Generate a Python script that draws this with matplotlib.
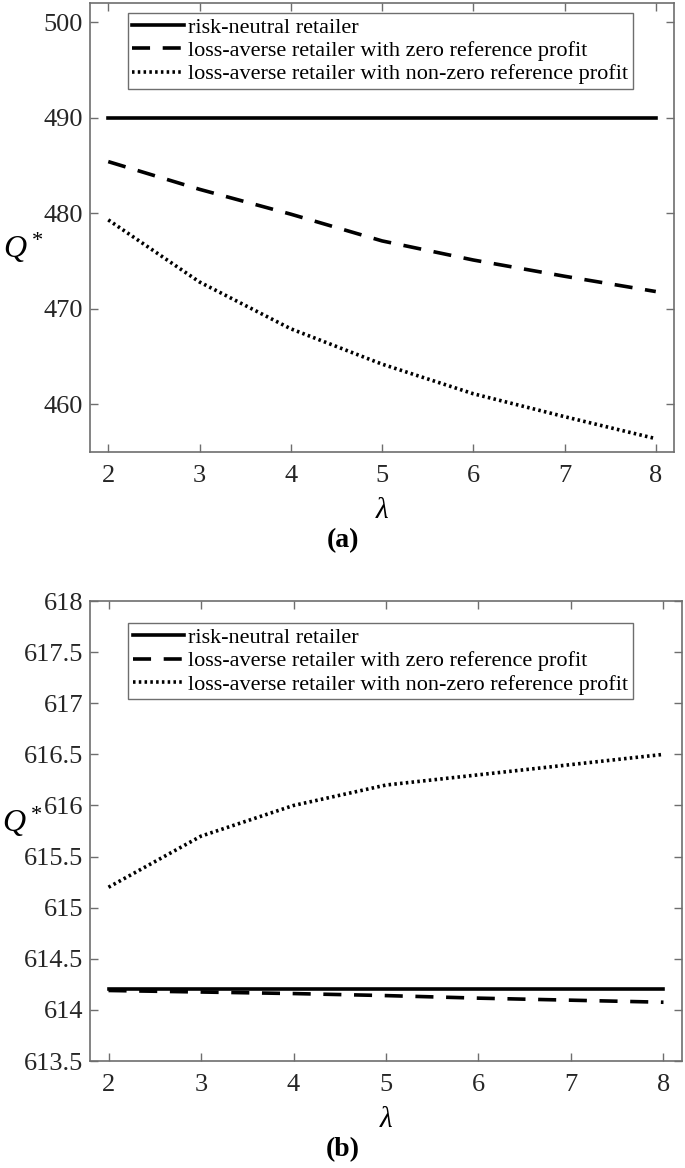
# optimal order quantity Q* vs loss aversion lambda, two cases
import matplotlib.pyplot as plt
import numpy as np

plt.rcParams['font.family'] = ['Liberation Serif', 'DejaVu Serif']
plt.rcParams['mathtext.fontset'] = 'custom'
plt.rcParams['mathtext.rm'] = 'Liberation Serif'
plt.rcParams['mathtext.it'] = 'Liberation Serif:italic'

# data
lam = [2, 3, 4, 5, 6, 7, 8]

# panel (a)
a_neutral = [490, 490, 490, 490, 490, 490, 490]
a_zero = [485.4, 482.5, 479.9, 477.1, 475.1, 473.4, 471.8]
a_nonzero = [479.3, 472.8, 467.9, 464.2, 461.1, 458.7, 456.4]

# panel (b)
b_neutral = [614.2, 614.2, 614.2, 614.2, 614.2, 614.2, 614.2]
b_zero = [614.19, 614.175, 614.16, 614.14, 614.115, 614.095, 614.075]
b_nonzero = [615.2, 615.7, 616.0, 616.2, 616.3, 616.4, 616.5]

a_yticks = [460, 470, 480, 490, 500]
b_yticks = ['613.5', '614', '614.5', '615', '615.5', '616',
            '616.5', '617', '617.5', '618']

labels = ["risk-neutral retailer",
          "loss-averse retailer with zero reference profit",
          "loss-averse retailer with non-zero reference profit"]

axcol = '#6e6e6e'
serif = 'Liberation Serif'

fig = plt.figure(figsize=(6.85, 11.68), dpi=100)
ax1 = fig.add_axes([0.1314, 0.6130, 0.8526, 0.3844])
ax2 = fig.add_axes([0.1314, 0.0916, 0.8642, 0.3938])


def style(ax):
    for s in ax.spines.values():
        s.set_color(axcol)
        s.set_linewidth(1.2)
    ax.tick_params(direction='in', top=True, right=True, length=6,
                   width=1.0, color=axcol, labelsize=19, labelcolor='#262626',
                   labelfontfamily=serif)
    ax.tick_params(axis='x', pad=9)
    ax.tick_params(axis='y', pad=5)
    ax.set_xlim(1.8, 8.2)
    ax.set_xticks(lam)


def add_legend(ax, top):
    leg = ax.legend(loc='upper left', bbox_to_anchor=(0.065, top), fontsize=16,
                    frameon=True, fancybox=False, framealpha=1, edgecolor=axcol,
                    handlelength=2.3, handletextpad=0.2, borderpad=0.2,
                    labelspacing=0.12, borderaxespad=0)
    leg.get_frame().set_linewidth(1.0)


# (a)
ax1.plot(lam, a_neutral, '-', color='black', lw=2.6, label=labels[0])
ax1.plot(lam, a_zero, '--', color='black', lw=2.6, dashes=(5, 3.5), label=labels[1])
ax1.plot(lam, a_nonzero, ':', color='black', lw=2.6, dashes=(0.7, 0.9), label=labels[2])
style(ax1)
ax1.set_ylim(455, 502)
ax1.set_yticks(a_yticks)
ax1.text(0.5, -59 / 449, 'λ', transform=ax1.transAxes, ha='center', va='center',
         fontsize=21, style='italic', family=serif)
ax1.text(-0.115, 0.455, r'$Q^*$', transform=ax1.transAxes, ha='center',
         va='center', fontsize=23)
add_legend(ax1, 0.978)
fig.text(0.5, 1 - 541 / 1168, '(a)', ha='center', va='center',
         fontsize=20, fontweight='bold', family=serif)

# (b)
ax2.plot(lam, b_neutral, '-', color='black', lw=2.6, label=labels[0])
ax2.plot(lam, b_zero, '--', color='black', lw=2.6, dashes=(5, 3.5), label=labels[1])
ax2.plot(lam, b_nonzero, ':', color='black', lw=2.6, dashes=(0.7, 0.9), label=labels[2])
style(ax2)
ax2.set_ylim(613.5, 618)
ax2.set_yticks([float(v) for v in b_yticks])
ax2.set_yticklabels(b_yticks)
ax2.text(0.5, -59 / 460, 'λ', transform=ax2.transAxes, ha='center', va='center',
         fontsize=21, style='italic', family=serif)
ax2.text(-0.115, 0.52, r'$Q^*$', transform=ax2.transAxes, ha='center',
         va='center', fontsize=23)
add_legend(ax2, 0.952)
fig.text(0.5, 1 - 1150 / 1168, '(b)', ha='center', va='center',
         fontsize=20, fontweight='bold', family=serif)

fig.savefig('out.png', dpi=100)
